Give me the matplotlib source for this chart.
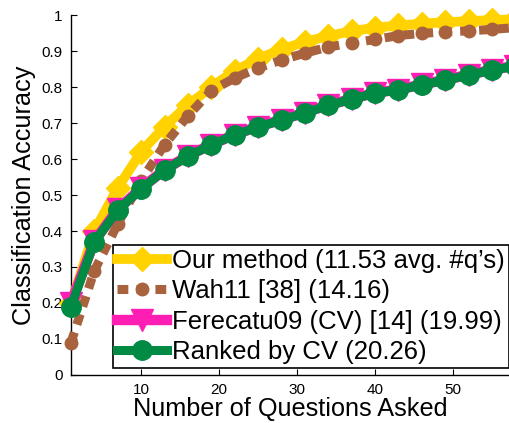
import matplotlib
matplotlib.use("Agg")
import matplotlib.pyplot as plt

plt.rcParams['font.family'] = ['Liberation Sans', 'DejaVu Sans']

# Number of questions asked (sampled every 3 questions)
questions = [1, 4, 7, 10, 13, 16, 19, 22, 25, 28, 31, 34, 37, 40, 43, 46, 49, 52, 55, 58]

ours = [0.20, 0.40, 0.52, 0.62, 0.69, 0.75, 0.80, 0.845, 0.878, 0.905, 0.925, 0.942,
        0.955, 0.965, 0.971, 0.976, 0.980, 0.983, 0.986, 0.988]
wah11 = [0.09, 0.29, 0.42, 0.54, 0.64, 0.72, 0.79, 0.825, 0.853, 0.875, 0.894, 0.911,
         0.922, 0.932, 0.943, 0.949, 0.953, 0.956, 0.960, 0.965]
ferecatu = [0.20, 0.372, 0.460, 0.519, 0.570, 0.609, 0.640, 0.668, 0.690, 0.709, 0.729,
            0.750, 0.767, 0.784, 0.793, 0.807, 0.820, 0.834, 0.848, 0.859]
ranked_cv = [0.19, 0.37, 0.458, 0.517, 0.569, 0.608, 0.639, 0.667, 0.689, 0.708, 0.728,
             0.749, 0.766, 0.783, 0.792, 0.806, 0.819, 0.833, 0.847, 0.858]

labels = ["Our method (11.53 avg. #q\u2019s)", "Wah11 [38] (14.16)",
          "Ferecatu09 (CV) [14] (19.99)", "Ranked by CV (20.26)"]

yticks = [0, 0.1, 0.2, 0.3, 0.4, 0.5, 0.6, 0.7, 0.8, 0.9, 1]
ytick_labels = ["0", "0.1", "0.2", "0.3", "0.4", "0.5", "0.6", "0.7", "0.8", "0.9", "1"]
xticks = [10, 20, 30, 40, 50]

fig = plt.figure(figsize=(5.09, 4.23), dpi=100)
ax = fig.add_axes([0.1395, 0.1135, 0.8605, 0.851])

yellow = "#ffd200"
brown = "#a8633e"
pink = "#ff1eb4"
green = "#008a44"

ax.plot(questions, ours, color=yellow, lw=7, marker="D", ms=12, mec=yellow,
        label=labels[0], clip_on=False, zorder=3)
ax.plot(questions, wah11, color=brown, lw=6.5, linestyle=(0, (1.2, 0.9)),
        dash_capstyle="butt", marker="o", ms=9, mec=brown, label=labels[1],
        clip_on=False, zorder=4)
ax.plot(questions, ferecatu, color=pink, lw=7.5, marker="v", ms=16.5, mec=pink,
        label=labels[2], clip_on=False, zorder=5)
ax.plot(questions, ranked_cv, color=green, lw=6.5, marker="o", ms=14, mec=green,
        label=labels[3], clip_on=False, zorder=6)

ax.set_xlim(1, 57.18)
ax.set_ylim(0, 1)
ax.set_yticks(yticks)
ax.set_yticklabels(ytick_labels)
ax.set_xticks(xticks)
ax.tick_params(direction="in", length=4, width=0.8, labelsize=11, pad=6)
for side in ("top", "right"):
    ax.spines[side].set_visible(False)
for side in ("left", "bottom"):
    ax.spines[side].set_linewidth(1)

ax.set_xlabel("Number of Questions Asked", fontsize=18.2, labelpad=0)
ax.set_ylabel("Classification Accuracy", fontsize=18.2, labelpad=4)

leg = ax.legend(loc="lower right", bbox_to_anchor=(1.0, 0.02), fontsize=18.5,
                frameon=True, fancybox=False, edgecolor="black", framealpha=1,
                handlelength=1.95, handletextpad=0.2, borderpad=0.15,
                labelspacing=0.25, borderaxespad=0)
leg.get_frame().set_linewidth(1.2)

fig.savefig("out.png", dpi=100)
